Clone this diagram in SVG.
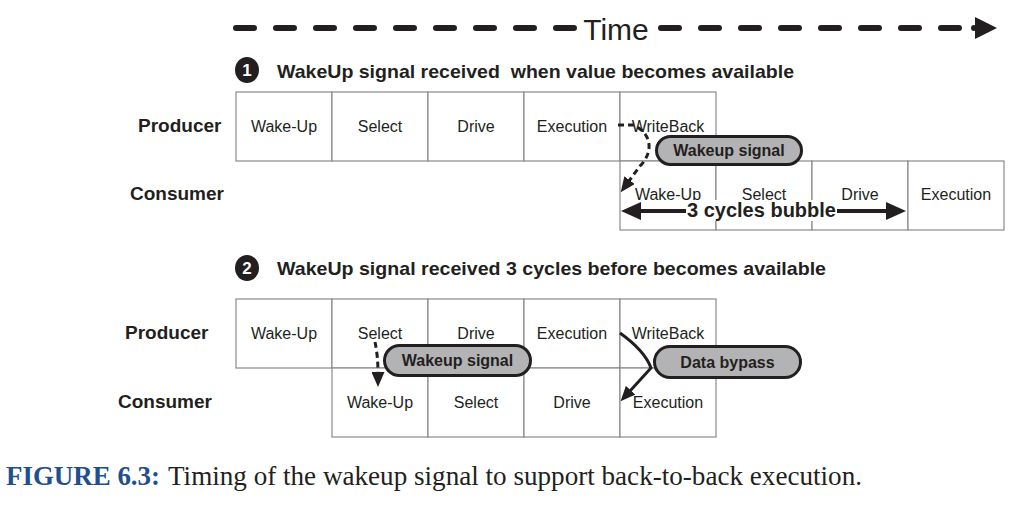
<svg xmlns="http://www.w3.org/2000/svg" width="1024" height="518" viewBox="0 0 1024 518">
<defs>
<style>
.cell rect{fill:#fff;stroke:#8a8a8a;stroke-width:1.2}
.cell text{font-family:"Liberation Sans",Arial,sans-serif;font-size:16px;fill:#231f20;text-anchor:middle}
.lbl{font-family:"Liberation Sans",Arial,sans-serif;font-size:19px;font-weight:bold;fill:#231f20}
.head{font-family:"Liberation Sans",Arial,sans-serif;font-size:19px;font-weight:bold;fill:#231f20;white-space:pre}
.num{font-family:"Liberation Sans",Arial,sans-serif;font-size:17px;font-weight:bold;fill:#fff;text-anchor:middle}
.pill rect{fill:#b3b3b5;stroke:#231f20;stroke-width:3}
.pill text{font-family:"Liberation Sans",Arial,sans-serif;font-size:16px;font-weight:bold;fill:#231f20;text-anchor:middle}
.dash{fill:none;stroke:#231f20;stroke-width:3;stroke-dasharray:6 4}
.solid{fill:none;stroke:#231f20;stroke-width:3}
.time{fill:none;stroke:#231f20;stroke-width:6;stroke-linecap:round;stroke-dasharray:18 22}
</style>
<marker id="ah" markerUnits="userSpaceOnUse" markerWidth="15" markerHeight="13" viewBox="0 0 15 13" refX="1" refY="6.5" orient="auto"><path d="M0,0 L15,6.5 L0,13 z" fill="#231f20"/></marker>
<marker id="big" markerUnits="userSpaceOnUse" markerWidth="20" markerHeight="18" viewBox="0 0 20 18" refX="1" refY="9" orient="auto-start-reverse"><path d="M0,0 L20,9 L0,18 z" fill="#231f20"/></marker>
</defs>
<rect width="1024" height="518" fill="#fff"/>

<g id="time-axis">
<path class="time" d="M236,28 L576,28"/>
<text x="616" y="40" font-family="'Liberation Sans',Arial,sans-serif" font-size="30" fill="#231f20" text-anchor="middle">Time</text>
<path class="time" d="M661,28 L960,28"/>
<circle cx="974" cy="28" r="3" fill="#231f20"/>
<polygon points="975,17 997,28 975,39" fill="#231f20"/>
</g>

<g id="heading1">
<ellipse cx="247" cy="70" rx="12" ry="13" fill="#231f20"/>
<text class="num" x="247" y="76">1</text>
<text class="head" x="277" y="78" textLength="517" lengthAdjust="spacingAndGlyphs">WakeUp signal received  when value becomes available</text>
</g>
<text class="lbl" x="138" y="132">Producer</text>
<text class="lbl" x="130" y="200">Consumer</text>

<g id="s1-producer">
<g class="cell" id="s1p-wakeup"><rect x="236" y="92" width="96" height="69"/><text x="284" y="132">Wake-Up</text></g>
<g class="cell" id="s1p-select"><rect x="332" y="92" width="96" height="69"/><text x="380" y="132">Select</text></g>
<g class="cell" id="s1p-drive"><rect x="428" y="92" width="96" height="69"/><text x="476" y="132">Drive</text></g>
<g class="cell" id="s1p-exec"><rect x="524" y="92" width="96" height="69"/><text x="572" y="132">Execution</text></g>
<g class="cell" id="s1p-wb"><rect x="620" y="92" width="96" height="69"/><text x="668" y="132">WriteBack</text></g>
</g>
<g id="s1-consumer">
<g class="cell" id="s1c-wakeup"><rect x="620" y="161" width="96" height="69"/><text x="668" y="200">Wake-Up</text></g>
<g class="cell" id="s1c-select"><rect x="716" y="161" width="96" height="69"/><text x="764" y="200">Select</text></g>
<g class="cell" id="s1c-drive"><rect x="812" y="161" width="96" height="69"/><text x="860" y="200">Drive</text></g>
<g class="cell" id="s1c-exec"><rect x="908" y="161" width="96" height="69"/><text x="956" y="200">Execution</text></g>
</g>

<g id="heading2">
<ellipse cx="247" cy="268" rx="12" ry="13" fill="#231f20"/>
<text class="num" x="247" y="274">2</text>
<text class="head" x="277" y="275" textLength="549" lengthAdjust="spacingAndGlyphs">WakeUp signal received 3 cycles before becomes available</text>
</g>
<text class="lbl" x="125" y="339">Producer</text>
<text class="lbl" x="118" y="408">Consumer</text>

<g id="s2-producer">
<g class="cell" id="s2p-wakeup"><rect x="236" y="299" width="96" height="69"/><text x="284" y="339">Wake-Up</text></g>
<g class="cell" id="s2p-select"><rect x="332" y="299" width="96" height="69"/><text x="380" y="339">Select</text></g>
<g class="cell" id="s2p-drive"><rect x="428" y="299" width="96" height="69"/><text x="476" y="339">Drive</text></g>
<g class="cell" id="s2p-exec"><rect x="524" y="299" width="96" height="69"/><text x="572" y="339">Execution</text></g>
<g class="cell" id="s2p-wb"><rect x="620" y="299" width="96" height="69"/><text x="668" y="339">WriteBack</text></g>
</g>
<g id="s2-consumer">
<g class="cell" id="s2c-wakeup"><rect x="332" y="368" width="96" height="69"/><text x="380" y="408">Wake-Up</text></g>
<g class="cell" id="s2c-select"><rect x="428" y="368" width="96" height="69"/><text x="476" y="408">Select</text></g>
<g class="cell" id="s2c-drive"><rect x="524" y="368" width="96" height="69"/><text x="572" y="408">Drive</text></g>
<g class="cell" id="s2c-exec"><rect x="620" y="368" width="96" height="69"/><text x="668" y="408">Execution</text></g>
</g>

<g id="connectors">
<path class="dash" d="M618,125 L633,125 C652,133 654,152 640,166 L629,181" marker-end="url(#ah)"/>
<path class="dash" d="M375,342 Q378,356 378,373" marker-end="url(#ah)"/>
<path class="solid" d="M620,333 Q645,351 651,368 L630,391" marker-end="url(#ah)"/>
<path d="M640,211 L887,211" stroke="#231f20" stroke-width="4" marker-start="url(#big)" marker-end="url(#big)"/>
</g>

<g id="bubble-label">
<rect x="686" y="200" width="151" height="21" fill="#fff"/>
<text x="761.5" y="217" font-family="'Liberation Sans',Arial,sans-serif" font-size="20" font-weight="bold" fill="#231f20" text-anchor="middle">3 cycles bubble</text>
</g>

<g class="pill" id="wakeup-signal-1"><rect x="656.5" y="136.5" width="145" height="28" rx="14"/><text x="729" y="156">Wakeup signal</text></g>
<g class="pill" id="wakeup-signal-2"><rect x="384.5" y="345.5" width="146" height="30" rx="15"/><text x="457.5" y="366">Wakeup signal</text></g>
<g class="pill" id="data-bypass"><rect x="654.5" y="346.5" width="146" height="31" rx="15.5"/><text x="727.5" y="368">Data bypass</text></g>

<g id="caption">
<text x="6" y="485" font-family="'Liberation Serif','Times New Roman',serif" font-size="27" font-weight="bold" fill="#1f4f8f" textLength="154" lengthAdjust="spacingAndGlyphs">FIGURE 6.3:</text>
<text x="168" y="485" font-family="'Liberation Serif','Times New Roman',serif" font-size="27" fill="#231f20" textLength="694" lengthAdjust="spacingAndGlyphs">Timing of the wakeup signal to support back-to-back execution.</text>
</g>
</svg>
